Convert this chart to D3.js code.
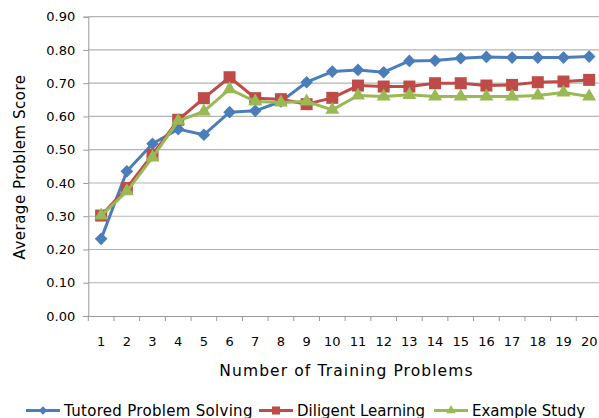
<!DOCTYPE html>
<html><head><meta charset="utf-8">
<script src="https://cdn.jsdelivr.net/npm/d3@7"></script>
<style>body{margin:0;background:#fff}svg{display:block}text{font-family:"DejaVu Sans",Verdana,sans-serif;fill:#000}</style>
</head><body><svg id="c" width="599" height="418"></svg>
<script>
const categories = d3.range(1, 21).map(String);
const yTicks = [0,0.1,0.2,0.3,0.4,0.5,0.6,0.7,0.8,0.9];
const seriesNames = ["Tutored Problem Solving","Diligent Learning","Example Study"];
const tutored = [0.232,0.435,0.518,0.562,0.545,0.613,0.617,0.645,0.703,0.735,0.740,0.733,0.767,0.768,0.775,0.779,0.777,0.777,0.777,0.780];
const diligent = [0.302,0.385,0.485,0.590,0.655,0.718,0.655,0.652,0.637,0.656,0.693,0.690,0.690,0.700,0.700,0.693,0.695,0.703,0.705,0.710];
const example = [0.302,0.375,0.477,0.587,0.615,0.682,0.645,0.642,0.645,0.620,0.663,0.660,0.665,0.660,0.660,0.660,0.660,0.663,0.672,0.660];
const colors = ["#4a7ebb","#be4b48","#98b954"];
const symbols = [d3.symbolSquare, d3.symbolSquare, d3.symbolTriangle];
const symRot = [45, 0, 0];
const symSizes = [80, 144, 85];

const svg = d3.select("#c");
const L = 88.3, R = 602, T = 16.7, B = 316;
const x = d3.scaleBand().domain(categories).range([L, R]);
const y = d3.scaleLinear().domain([0, 0.9]).range([B, T]);

// gridlines
svg.append("g").selectAll("line").data(yTicks.slice(1)).join("line")
  .attr("x1", L).attr("x2", R).attr("y1", d => y(d)).attr("y2", d => y(d))
  .attr("stroke", "#b3b3b3").attr("stroke-width", 1.2);

// y axis
const ya = svg.append("g").attr("transform", `translate(${L},0)`)
  .call(d3.axisLeft(y).tickValues(yTicks).tickFormat(d3.format(".2f")).tickSize(5).tickPadding(8));
ya.select(".domain").attr("stroke", "#999");
ya.selectAll(".tick line").attr("stroke", "#999");
ya.selectAll("text").attr("font-size", 13).attr("fill", "#000");

// x axis
const xa = svg.append("g").attr("transform", `translate(0,${B})`)
  .call(d3.axisBottom(x).tickSize(0).tickPadding(21));
xa.select(".domain").attr("stroke", "#999");
xa.selectAll("text").attr("font-size", 13).attr("fill", "#000");
svg.append("g").selectAll("line").data(categories.concat(["end"])).join("line")
  .attr("x1", (d,i) => L + i * x.step()).attr("x2", (d,i) => L + i * x.step())
  .attr("y1", B).attr("y2", B + 5).attr("stroke", "#999");

// series
const data = [tutored, diligent, example];
const line = d3.line().x((d,i) => x(categories[i]) + x.bandwidth()/2).y(d => y(d));
data.forEach((vals, s) => {
  const g = svg.append("g");
  g.append("path").datum(vals).attr("d", line).attr("fill", "none")
    .attr("stroke", colors[s]).attr("stroke-width", 3).attr("stroke-linejoin", "round");
  g.selectAll("path.m").data(vals).join("path").attr("class", "m")
    .attr("transform", (d,i) => `translate(${x(categories[i]) + x.bandwidth()/2},${y(d)}) rotate(${symRot[s]})`)
    .attr("d", d3.symbol().type(symbols[s]).size(symSizes[s]))
    .attr("fill", colors[s]);
});

// axis titles
svg.append("text").attr("x", 346.5).attr("y", 376).attr("text-anchor", "middle")
  .attr("font-size", 15.5).attr("letter-spacing", 1.1).text("Number of Training Problems");
svg.append("text").attr("transform", "translate(25,167) rotate(-90)").attr("text-anchor", "middle")
  .attr("font-size", 15).attr("letter-spacing", 0.5).text("Average Problem Score");

// legend
const legX = [26, 259, 434];
const legSpacing = [0.3, 0, 0];
seriesNames.forEach((n, s) => {
  const g = svg.append("g").attr("transform", `translate(${legX[s]},410.5)`);
  g.append("line").attr("x1", 0).attr("x2", 34).attr("stroke", colors[s]).attr("stroke-width", 3);
  g.append("path").attr("transform", `translate(17,0) rotate(${symRot[s]})`)
    .attr("d", d3.symbol().type(symbols[s]).size(symSizes[s]*0.45)).attr("fill", colors[s]);
  g.append("text").attr("x", 38).attr("y", 5).attr("font-size", 15)
    .attr("letter-spacing", legSpacing[s]).text(n);
});
</script></body></html>
